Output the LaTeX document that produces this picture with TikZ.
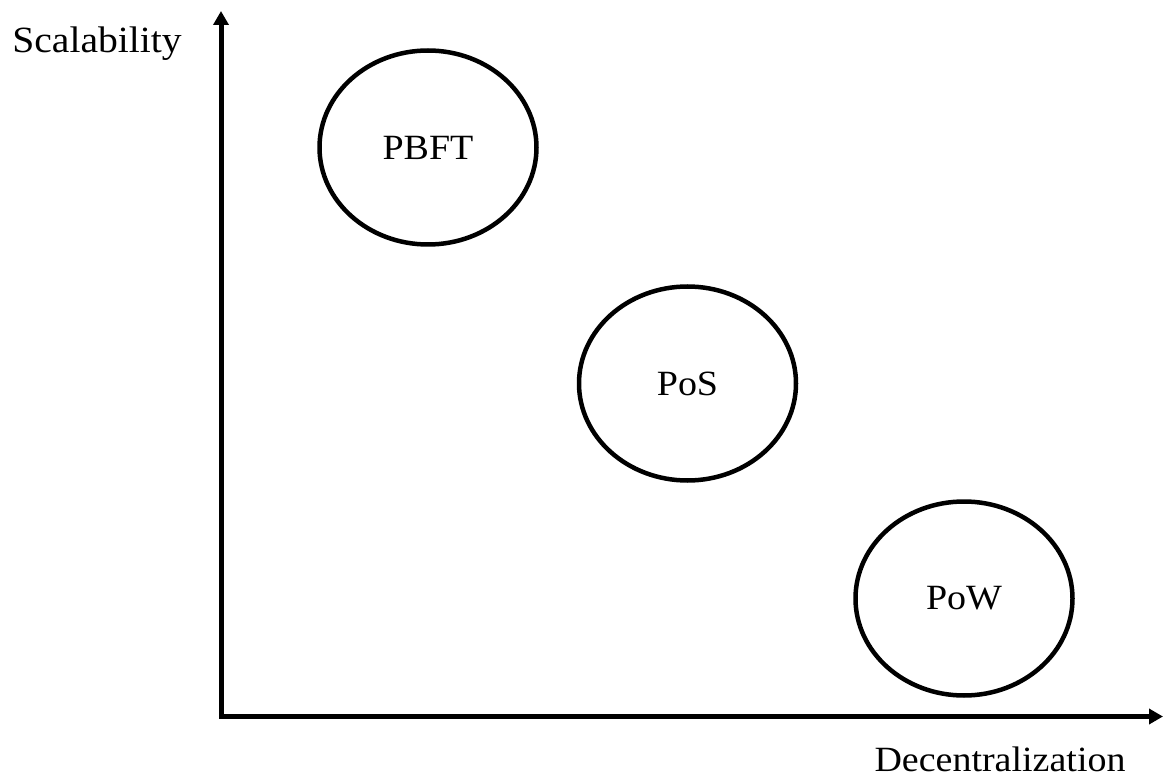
\documentclass[tikz,border=0pt]{standalone}
\usepackage{fontspec}
\setmainfont[FakeStretch=1.07]{Liberation Serif}
\usetikzlibrary{shapes.geometric,arrows.meta}
\begin{document}
\begin{tikzpicture}[x=1pt,y=-1pt,
  axis/.style={line width=5pt,line join=miter,
    {Triangle[length=14pt,width=15pt]}-{Triangle[length=14pt,width=15pt]}},
  bubble/.style={ellipse,draw,line width=4.5pt,minimum width=217pt,
    minimum height=194pt,inner sep=0pt,
    font=\fontsize{35.5}{42}\selectfont},
  label/.style={anchor=base,inner sep=0pt,font=\fontsize{35.5}{42}\selectfont}]
  \useasboundingbox (0,0) rectangle (1163,778);
  % axes
  \coordinate (origin) at (221,716.5);
  \coordinate (ytip) at (221,11);
  \coordinate (xtip) at (1163,716.5);
  \draw[axis] (ytip) -- (origin) -- (xtip);
  \node[label,font=\fontsize{37}{44}\selectfont] (ylabel) at (97,53) {Scalability};
  \node[label] (xlabel) at (1000,771) {Decentralization};
  % consensus protocols
  \node[bubble] (pbft) at (428,147.5) {PBFT};
  \node[bubble] (pos) at (687.5,383.5) {PoS};
  \node[bubble] (pow) at (964,598.5) {PoW};
\end{tikzpicture}
\end{document}
